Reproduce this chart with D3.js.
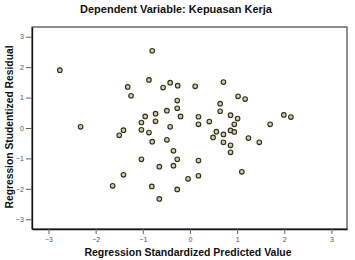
<!DOCTYPE html>
<html><head><meta charset="utf-8">
<script src="https://cdn.jsdelivr.net/npm/d3@7"></script>
<style>body{margin:0;background:#fff}svg{display:block}</style>
</head><body>
<svg id="c" width="355" height="260"></svg>
<script>
const title = "Dependent Variable: Kepuasan Kerja";
const xLabel = "Regression Standardized Predicted Value";
const yLabel = "Regression Studentized Residual";
const xTicks = [-3,-2,-1,0,1,2,3];
const yTicks = [-3,-2,-1,0,1,2,3];
const predicted = [-2.76,-2.32,-1.64,-1.50,-1.41,-1.41,-1.32,-1.25,-1.03,-1.03,-1.03,-0.95,-0.87,-0.87,-0.80,-0.81,-0.80,-0.73,-0.73,-0.65,-0.65,-0.57,-0.49,-0.49,-0.42,-0.42,-0.35,-0.35,-0.27,-0.27,-0.26,-0.27,-0.27,-0.20,-0.04,0.11,0.18,0.18,0.18,0.18,0.41,0.49,0.56,0.64,0.64,0.71,0.71,0.71,0.86,0.86,0.94,0.94,0.86,0.86,1.02,1.01,1.10,1.17,1.24,1.47,1.70,1.99,2.14];
const residual = [1.90,0.04,-1.90,-0.24,-0.07,-1.54,1.35,1.06,0.18,-0.06,-1.03,0.38,1.58,-0.15,-0.45,-1.92,2.54,0.47,0.22,-1.27,-2.33,1.33,0.57,-0.39,1.49,0.04,-0.75,-1.24,0.90,0.65,1.39,-1.03,-2.02,0.38,-1.67,1.37,0.37,0.12,-1.07,-1.57,0.21,-0.31,-0.12,0.80,0.55,1.51,-0.21,-0.47,0.42,-0.08,-0.13,0.12,-0.57,-0.80,1.04,0.31,-1.44,0.95,-0.33,-0.47,0.12,0.43,0.36];

const svg = d3.select("#c");
const font = "'Liberation Sans', Arial, sans-serif";
const x = d3.scaleLinear().domain([-3.35,3.33]).range([32,347]);
const y = d3.scaleLinear().domain([-3.32,3.32]).range([229,27]);

svg.append("text").attr("x",176).attr("y",13).attr("text-anchor","middle")
  .attr("font-family",font).attr("font-weight","bold").attr("font-size",11).attr("fill","#111").text(title);

// frame
svg.append("rect").attr("x",x.range()[0]).attr("y",y.range()[1])
  .attr("width",x.range()[1]-x.range()[0]).attr("height",y.range()[0]-y.range()[1])
  .attr("fill","none").attr("stroke","#444").attr("stroke-width",1.2);

const xa = svg.append("g").attr("transform",`translate(0,${y.range()[0]})`)
  .call(d3.axisBottom(x).tickValues(xTicks).tickSize(5).tickSizeOuter(0).tickFormat(d3.format("d")));
const ya = svg.append("g").attr("transform",`translate(${x.range()[0]},0)`)
  .call(d3.axisLeft(y).tickValues(yTicks).tickSize(6).tickSizeOuter(0).tickFormat(d3.format("d")));
[xa,ya].forEach(g=>{
  g.select(".domain").attr("stroke","#111").attr("stroke-width",1.3);
  g.selectAll(".tick line").attr("stroke","#666");
  g.selectAll(".tick text").attr("fill","#555").attr("font-family",font).attr("font-size",7);
});
xa.selectAll(".tick text").attr("dy","0.9em").attr("y",7);
ya.selectAll(".tick text").attr("x",-8);

svg.append("text").attr("x",188).attr("y",256).attr("text-anchor","middle")
  .attr("font-family",font).attr("font-weight","bold").attr("font-size",10.5).attr("fill","#111").text(xLabel);
svg.append("text").attr("transform","translate(13,127) rotate(-90)").attr("text-anchor","middle")
  .attr("font-family",font).attr("font-weight","bold").attr("font-size",10.3).attr("fill","#111").text(yLabel);

svg.append("g").selectAll("circle").data(predicted.map((p,i)=>[p,residual[i]])).join("circle")
  .attr("cx",d=>x(d[0])).attr("cy",d=>y(d[1])).attr("r",2.3)
  .attr("fill","#cfcf9e").attr("stroke","#2e2e22").attr("stroke-width",1.1);
</script>
</body></html>
